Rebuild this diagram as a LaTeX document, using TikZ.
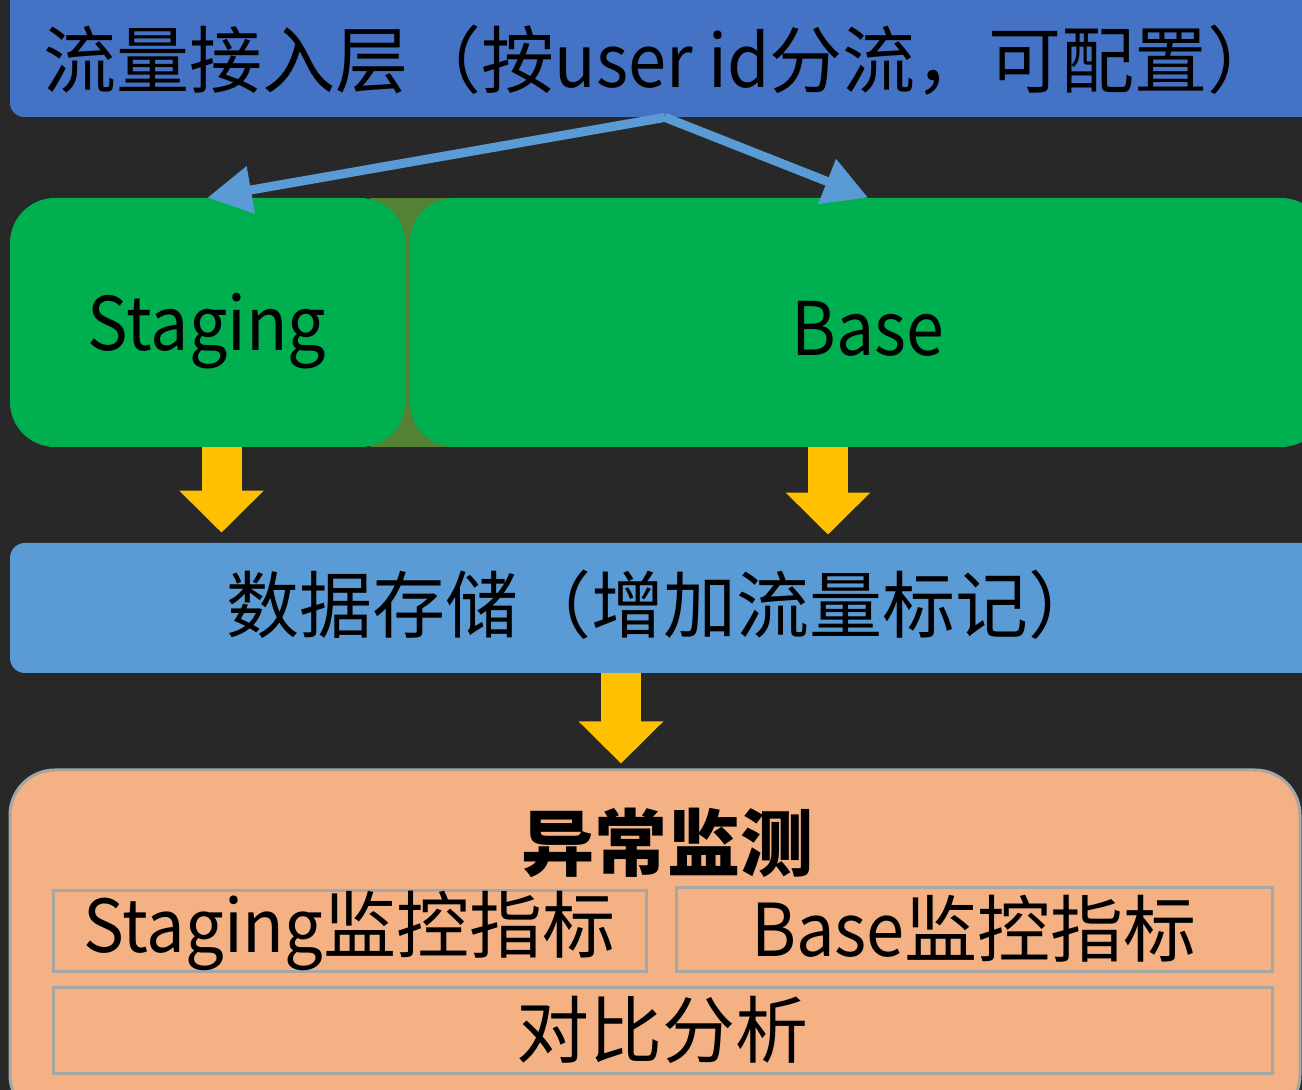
\documentclass[tikz,border=0pt]{standalone}
\usepackage{fontspec}
\usepackage{graphicx}
\setmainfont{Noto Sans CJK SC}
\usetikzlibrary{arrows.meta}
\definecolor{bgc}{HTML}{282828}
\definecolor{topblue}{HTML}{4472C4}
\definecolor{lightblue}{HTML}{5B9BD5}
\definecolor{grn}{HTML}{00B050}
\definecolor{olive}{HTML}{548235}
\definecolor{yel}{HTML}{FFC000}
\definecolor{orng}{HTML}{F4B183}
\definecolor{gryb}{HTML}{A6A6A6}
\newcommand{\narrow}[1]{\scalebox{0.94}[1]{#1}}
\tikzset{
  bigtext/.style={font=\fontsize{36.5pt}{44pt}\selectfont, text=black, inner sep=0pt},
  greenbox/.style={fill=grn, draw=none, rounded corners=22.5pt, inner sep=0pt},
  subbox/.style={draw=gryb, line width=1.5pt, inner sep=0pt, font=\fontsize{36.5pt}{44pt}\selectfont},
  bluearr/.style={draw=lightblue, line width=4.5pt, -{Triangle[length=22pt,width=23pt]}, fill=lightblue},
  yelarr/.style={draw=yel, line width=20pt, -{Triangle[length=21pt,width=41pt]}, fill=yel},
}
\begin{document}
\begin{tikzpicture}[x=0.5pt,y=-0.5pt]
\useasboundingbox (0,0) rectangle (1302,1090);
\clip (0,0) rectangle (1302,1090);
\fill[bgc] (0,0) rectangle (1302,1090);
% top bar
\node[fill=topblue, rounded corners=7pt, minimum width=655pt, minimum height=68.5pt, inner sep=0pt] (top) at (665,48.5) {};
\node[bigtext] (toptext) at (662,60) {流量接入层（按\narrow{user id}分流，可配置）};
% olive backing between the green boxes
\fill[olive] (370,198) rectangle (450,447);
% green boxes
\node[greenbox, minimum width=197.5pt, minimum height=124.5pt] (stag) at (207.5,322.5) {};
\node[greenbox, minimum width=458pt, minimum height=124.5pt] (base) at (868,322.5) {};
\node[font=\fontsize{37pt}{44pt}\selectfont, inner sep=0pt] (stagtext) at (207,331) {\scalebox{0.92}[1]{Staging}};
\node[font=\fontsize{37pt}{44pt}\selectfont, inner sep=0pt] (basetext) at (868,329) {\scalebox{0.92}[1]{Base}};
% blue arrows
\draw[bluearr] (top.south) -- (stag.north);
\draw[bluearr] (top.south) -- (base.north);
% storage bar
\node[fill=lightblue, rounded corners=7.5pt, minimum width=658pt, minimum height=65pt, inner sep=0pt] (store) at (668,608) {};
\node[bigtext] (storetext) at (664,605) {数据存储（增加流量标记）};
% yellow arrows
\draw[yelarr, shorten >=5pt] ([xshift=7pt]stag.south) -- ([xshift=7pt]stag.south |- store.north);
\draw[yelarr, shorten >=4pt] ([xshift=-20pt]base.south) -- ([xshift=-20pt]base.south |- store.north);
% monitor box
\node[fill=orng, draw=gryb, line width=1.5pt, rounded corners=22.5pt, minimum width=645pt, minimum height=175pt, inner sep=0pt] (mon) at (655,945) {};
\draw[yelarr, shorten >=2.5pt] ([xshift=-23.5pt]store.south) -- ([xshift=-23.5pt]store.south |- mon.north);
\node[font=\fontsize{36.5pt}{44pt}\selectfont\bfseries, inner sep=0pt] (montitle) at (667,843) {异常监测};
\node[subbox, minimum width=296.5pt, minimum height=40.5pt] (sa) at (349.5,930.5) {\narrow{Staging}监控指标};
\node[subbox, minimum width=298pt, minimum height=42pt] (sb) at (974,929) {\narrow{Base}监控指标};
\node[subbox, minimum width=609.5pt, minimum height=43pt] (cmp) at (662.5,1030) {对比分析};
\end{tikzpicture}
\end{document}
